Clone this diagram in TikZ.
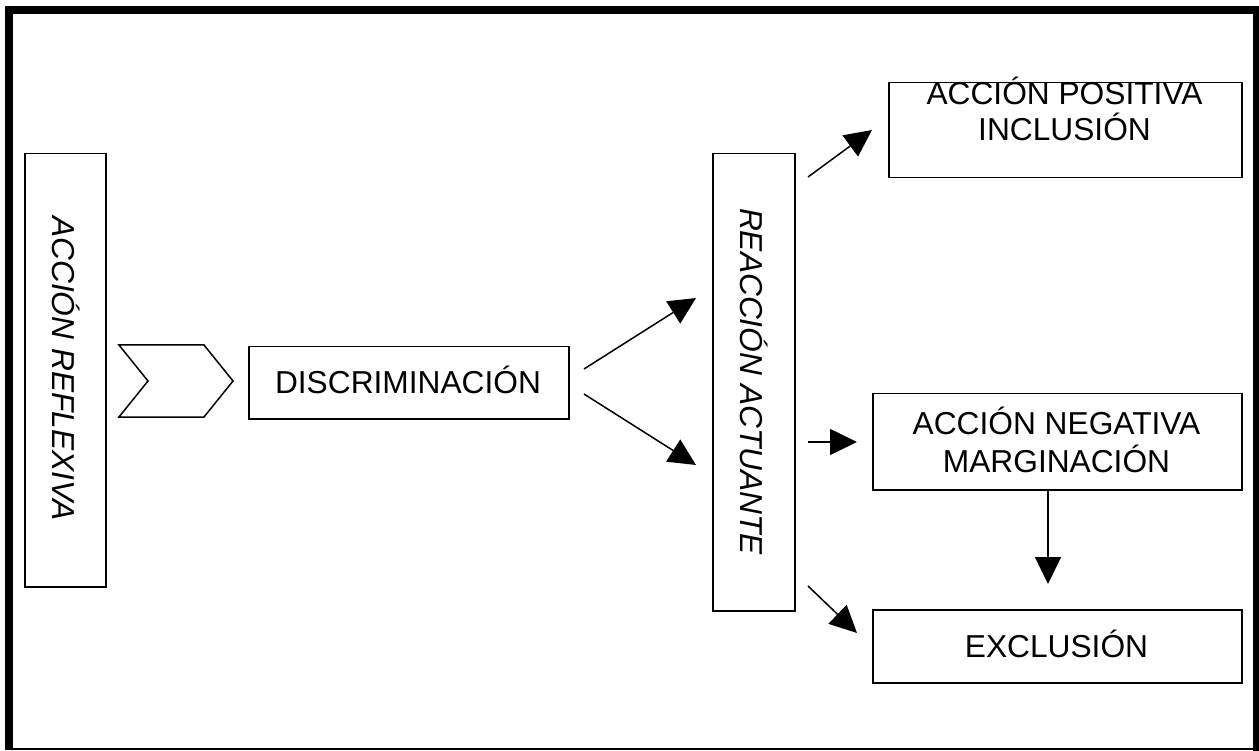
\documentclass[tikz,border=0pt]{standalone}
\usepackage{fontspec}
\setmainfont{Liberation Sans}
\usetikzlibrary{arrows.meta}
\begin{document}
\begin{tikzpicture}[x=1pt,y=-1pt,
  box/.style={draw,line width=1.5pt,inner sep=0pt,anchor=north west},
  lbl/.style={font=\fontsize{31.7pt}{36pt}\selectfont,inner sep=0pt,anchor=base},
  vlbl/.style={font=\fontsize{31.7pt}{36pt}\selectfont\itshape,inner sep=0pt,rotate=-90,anchor=base},
  arr/.style={line width=1.5pt,-{Triangle[length=27pt,width=26pt]}}]
\useasboundingbox (0,0) rectangle (1259,751);
% frame
\fill (5,6) rectangle (13,749.5);
\fill (5,6) rectangle (1259,14);
\fill (1253,6) rectangle (1259,751);
\draw[line width=1.5pt] (13,749) -- (1253,749);
% boxes
\node[box,minimum width=81pt,minimum height=433pt] (refl) at (24,153) {};
\node[box,minimum width=320pt,minimum height=72pt] (discr) at (248,346) {};
\node[box,minimum width=82pt,minimum height=457pt] (react) at (712,153) {};
\node[box,minimum width=353pt,minimum height=95pt] (pos) at (888,82) {};
\node[box,minimum width=369pt,minimum height=96pt] (neg) at (872,393) {};
\node[box,minimum width=369pt,minimum height=73pt] (excl) at (872,609) {};
% texts
\node[vlbl] (refltxt) at (52,368.5) {ACCIÓN REFLEXIVA};
\node[vlbl] (reacttxt) at (740,381.5) {REACCIÓN ACTUANTE};
\node[lbl] (discrtxt) at (408,393.3) {DISCRIMINACIÓN};
\node[lbl] (pos1) at (1064.5,105) {ACCIÓN POSITIVA};
\node[lbl] (pos2) at (1064.5,141) {INCLUSIÓN};
\node[lbl] (neg1) at (1056.5,435) {ACCIÓN NEGATIVA};
\node[lbl] (neg2) at (1056.5,472) {MARGINACIÓN};
\node[lbl] (excltxt) at (1056.5,657) {EXCLUSIÓN};
% chevron
\draw[line width=1.5pt,line join=miter] (119,345) -- (204,345) -- (233,381) -- (204,417) -- (119,417) -- (148,381) -- cycle;
% arrow end points
\coordinate (a1s) at (584,369);  \coordinate (a1e) at (696,298);
\coordinate (a2s) at (584,394);  \coordinate (a2e) at (696,465);
\coordinate (a3s) at (808,177);  \coordinate (a3e) at (872,130);
\coordinate (a4s) at (808,442);  \coordinate (a4e) at (857,442);
\coordinate (a5s) at (808,586);  \coordinate (a5e) at (857,633);
\coordinate (a6e) at (1048,584);
\draw[arr] (a1s) -- (a1e);
\draw[arr] (a2s) -- (a2e);
\draw[arr] (a3s) -- (a3e);
\draw[arr] (a4s) -- (a4e);
\draw[arr] (a5s) -- (a5e);
\draw[arr] (neg.south -| a6e) -- (a6e);
\end{tikzpicture}
\end{document}
